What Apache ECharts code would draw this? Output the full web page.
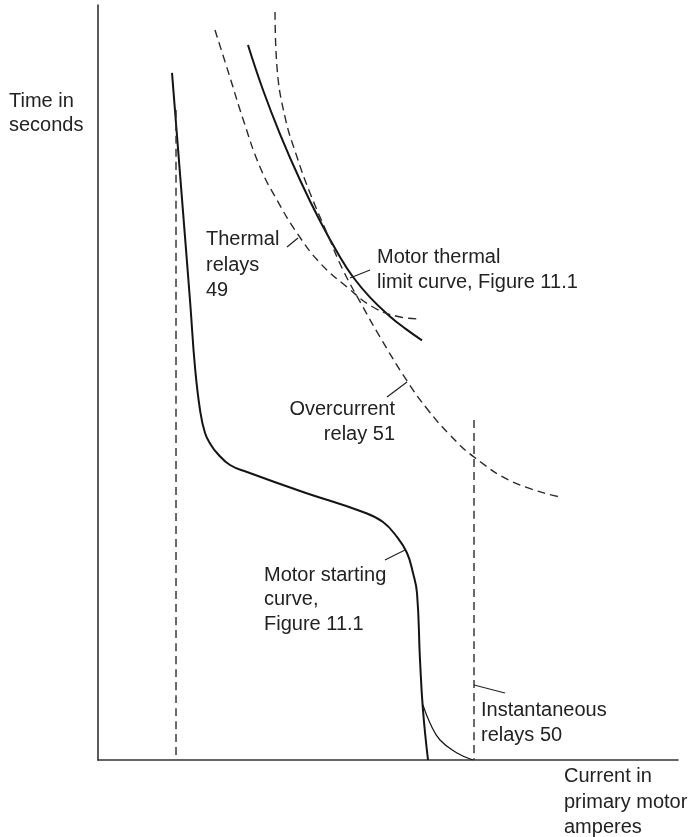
<!DOCTYPE html>
<html>
<head>
<meta charset="utf-8">
<script src="https://cdn.jsdelivr.net/npm/echarts@6/dist/echarts.min.js"></script>
<style>html,body{margin:0;padding:0;background:#fff}#c{width:692px;height:837px}</style>
</head>
<body>
<div id="c"></div>
<script>
// Schematic units: current (x) 0..100, time (y) 0..100
const motorStartingCurve = [[12.76,91.0],[15.86,60.9],[16.72,52.05],[17.59,46.36],[18.45,43.31],[19.48,41.72],[20.52,40.66],[22.76,39.07],[25.69,38.15],[35.34,35.5],[45.69,32.85],[49.14,31.52],[51.55,29.54],[53.28,27.42],[54.31,24.77],[55.0,22.12],[55.52,13.25],[56.03,6.62],[56.9,0]];
const startingTail = [[56.03,7.28],[57.24,4.9],[58.97,2.65],[61.9,0.93],[64.66,0]];
const motorThermalLimit = [[25.86,94.7],[28.45,88.74],[31.38,82.91],[34.83,76.82],[38.28,71.39],[41.72,66.62],[43.97,63.97],[46.9,61.27],[50.34,58.75],[52.93,57.17],[55.86,55.59]];
const thermalRelay49 = [[20.17,96.69],[22.76,90.4],[25.0,84.9],[27.93,78.54],[30.86,74.17],[34.31,69.8],[38.28,65.83],[42.93,62.65],[47.41,60.0],[52.07,58.68],[55.52,58.41]];
const overcurrentRelay51 = [[30.52,99.07],[30.86,91.79],[32.24,85.17],[34.31,79.87],[36.55,75.1],[39.48,69.8],[42.24,64.9],[45.69,60.0],[48.62,56.03],[53.28,50.2],[56.9,46.36],[60.69,43.05],[64.83,40.13],[71.55,36.82],[79.66,34.83]];
const lockedRotorLine = [[13.45,86.1],[13.45,0]];
const instantaneousRelay50 = [[64.83,45.03],[64.83,0]];
const leaderThermal = [[32.59,67.95],[34.48,69.14]];
const leaderMotorThermal = [[43.45,63.84],[46.9,64.9]];
const leaderOvercurrent = [[49.83,48.08],[53.28,50.07]];
const leaderStarting = [[49.48,26.49],[52.93,27.81]];
const leaderInstantaneous = [[64.83,9.93],[70.17,8.87]];

const labels = [
  {text:'Time in\nseconds', x:9, y:89, lh:24, align:'left'},
  {text:'Thermal\nrelays\n49', x:206, y:227, lh:25.5, align:'left'},
  {text:'Motor thermal\nlimit curve, Figure 11.1', x:377, y:245, lh:25, align:'left'},
  {text:'Overcurrent\nrelay 51', x:395, y:396.5, lh:25, align:'right'},
  {text:'Motor starting\ncurve,\nFigure 11.1', x:264, y:563, lh:24.5, align:'left'},
  {text:'Instantaneous\nrelays 50', x:481, y:697.5, lh:25, align:'left'},
  {text:'Current in\nprimary motor\namperes', x:564, y:764, lh:25.5, align:'left'}
];

const solid = (data, w) => ({type:'line', data, showSymbol:false, smooth:0.45, lineStyle:{color:'#141414', width:w}, silent:true});
const dashed = (data) => ({type:'line', data, showSymbol:false, smooth:0.45, lineStyle:{color:'#2a2a2a', width:1.4, type:[8,5]}, silent:true});
const leader = (data) => ({type:'line', data, showSymbol:false, lineStyle:{color:'#222', width:1.2}, silent:true});

const chart = echarts.init(document.getElementById('c'), null, {renderer:'canvas'});
chart.setOption({
  animation:false,
  backgroundColor:'#fff',
  grid:{left:98, right:14, top:5, bottom:77},
  xAxis:{type:'value', min:0, max:100, axisLine:{show:true, onZero:false, lineStyle:{color:'#333', width:1.6}}, axisTick:{show:false}, axisLabel:{show:false}, splitLine:{show:false}},
  yAxis:{type:'value', min:0, max:100, axisLine:{show:true, onZero:false, lineStyle:{color:'#333', width:1.6}}, axisTick:{show:false}, axisLabel:{show:false}, splitLine:{show:false}},
  series:[
    solid(motorStartingCurve, 2),
    solid(startingTail, 1.2),
    solid(motorThermalLimit, 2),
    dashed(thermalRelay49),
    dashed(overcurrentRelay51),
    dashed(lockedRotorLine),
    dashed(instantaneousRelay50),
    leader(leaderThermal),
    leader(leaderMotorThermal),
    leader(leaderOvercurrent),
    leader(leaderStarting),
    leader(leaderInstantaneous)
  ],
  graphic: labels.map(l => ({
    type:'text', silent:true,
    style:{text:l.text, x:l.x, y:l.y, textAlign:l.align, textVerticalAlign:'top', font:'20px "Liberation Sans", Arial, sans-serif', fill:'#222', lineHeight:l.lh}
  }))
});
</script>
</body>
</html>
